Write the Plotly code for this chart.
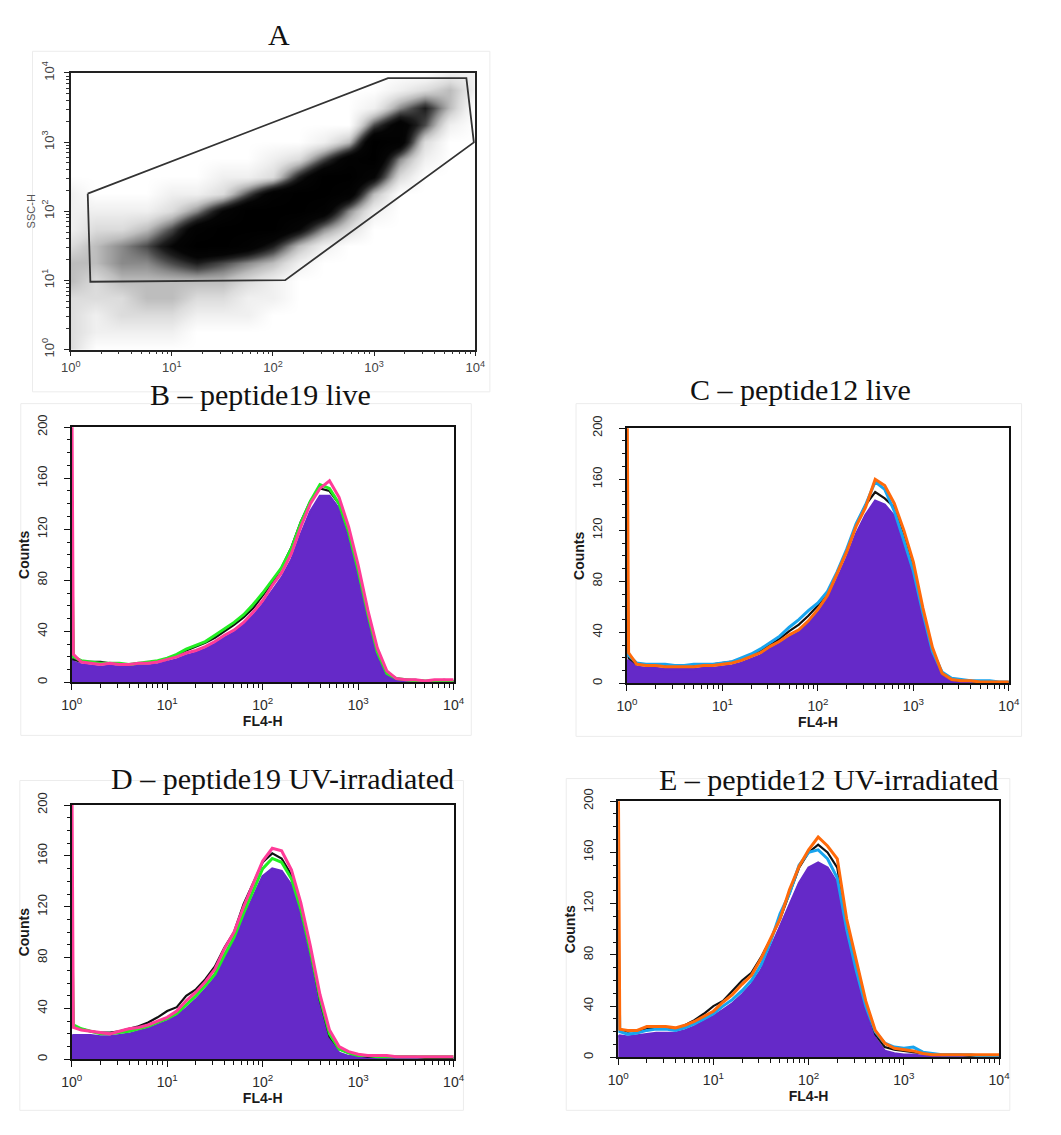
import math
import plotly.graph_objects as go

W, H = 1061, 1135

# ---------------- Panel A : FSC-H vs SSC-H density (log10 decades) ----------------
A_LOG = [0, 0.25, 0.5, 0.75, 1.0, 1.25, 1.5, 1.75, 2.0, 2.25, 2.5, 2.75, 3.0, 3.25, 3.5, 3.75, 4.0]
# darkness 0-9 of the dot cloud, rows from SSC 10^0 (bottom) upward, columns FSC 10^0 -> 10^4
A_CLOUD_ROWS = [
    "20000000000000000",
    "21111000000000000",
    "21222111000000000",
    "22233221100000000",
    "32333332100000000",
    "33445654310000000",
    "23457998631000000",
    "12235899974200000",
    "11112479998410000",
    "10001125899830000",
    "00000011269972000",
    "00000000125894100",
    "00000000001398200",
    "00000000000058510",
    "00000000000014630",
    "00000000000001231",
    "00000000000000011",
]
# gate polygon vertices (log10 FSC, log10 SSC)
GATE_X = [0.168, 3.138, 3.913, 3.987, 2.121, 0.194, 0.168]
GATE_Y = [2.255, 3.925, 3.925, 2.995, 1.005, 0.981, 2.255]

# ---------------- Histograms B-E ----------------
CHANNELS = [1.0, 1.04, 1.26, 1.58, 2.0, 2.51, 3.16, 3.98, 5.01, 6.31, 7.94,
            10, 12.6, 15.8, 20.0, 25.1, 31.6, 39.8, 50.1, 63.1, 79.4,
            100, 126, 158, 200, 251, 316, 398, 501, 631, 794,
            1000, 1259, 1585, 1995, 2512, 3162, 3981, 5012, 6310, 7943, 10000]

B_FILL  = [18, 16, 14, 13, 12, 13, 12, 12, 13, 13, 14, 16, 18, 21, 23, 26, 30, 35, 39, 45, 52, 61, 72, 82, 96, 116, 134, 146, 146, 136, 114, 85, 51, 21, 5, 1.5, 1, 0.5, 0.5, 0.5, 0.5, 0.5]
B_BLACK = [115, 18, 16, 16, 16, 15, 14, 14, 15, 15, 16, 18, 21, 25, 28, 31, 35, 40, 45, 51, 58, 68, 78, 90, 106, 126, 142, 152, 150, 140, 118, 90, 56, 26, 8, 3, 2, 2, 1, 1, 2, 1]
B_GREEN = [115, 20, 17, 16, 15, 15, 15, 14, 15, 16, 17, 19, 22, 26, 29, 32, 37, 42, 47, 53, 61, 70, 80, 90, 105, 125, 142, 155, 152, 140, 118, 88, 54, 24, 7, 3, 2, 1, 1, 1, 1, 1]
B_PINK  = [250, 22, 16, 15, 14, 15, 14, 14, 15, 15, 16, 18, 20, 23, 25, 28, 32, 37, 41, 47, 55, 64, 76, 86, 101, 122, 140, 152, 158, 145, 122, 92, 57, 27, 9, 3, 2, 2, 1, 2, 2, 2]

C_FILL   = [18, 18, 13, 12, 12, 11, 11, 11, 11, 12, 12, 13, 14, 16, 19, 22, 27, 31, 36, 40, 47, 55, 66, 81, 98, 117, 132, 143, 140, 131, 108, 85, 52, 22, 6, 1.5, 1, 0.5, 0.5, 0.5, 0.5, 0.5]
C_BLACK  = [115, 20, 15, 15, 15, 14, 14, 14, 14, 14, 15, 16, 17, 19, 22, 26, 30, 35, 41, 46, 53, 61, 71, 86, 104, 124, 140, 150, 145, 138, 118, 92, 57, 27, 8, 3, 2, 2, 1, 1, 1, 1]
C_BLUE   = [115, 22, 16, 15, 15, 15, 14, 14, 15, 15, 15, 16, 17, 20, 23, 27, 32, 37, 44, 50, 57, 63, 72, 87, 105, 125, 140, 158, 152, 135, 112, 88, 55, 25, 9, 4, 3, 2, 2, 2, 1, 1]
C_ORANGE = [250, 24, 15, 14, 14, 13, 13, 13, 13, 14, 14, 15, 16, 18, 21, 24, 29, 33, 38, 42, 49, 58, 69, 85, 103, 123, 138, 160, 155, 141, 120, 95, 59, 28, 8, 3, 2, 2, 1, 1, 1, 1]

D_FILL  = [18, 19, 19, 19, 18, 18, 19, 20, 22, 24, 27, 30, 34, 40, 47, 55, 64, 79, 93, 111, 128, 144, 150, 148, 137, 114, 81, 43, 16, 5, 2.5, 1.5, 1, 0.5, 0.5, 0.5, 0.5, 0.5, 0.5, 0.5, 0.5, 0.5]
D_BLACK = [110, 26, 24, 22, 21, 21, 22, 24, 26, 29, 33, 38, 41, 50, 55, 63, 73, 88, 100, 122, 138, 155, 162, 158, 145, 118, 85, 46, 18, 8, 5, 3, 2, 2, 2, 2, 2, 2, 1, 1, 1, 1]
D_GREEN = [110, 27, 24, 22, 20, 20, 21, 22, 24, 26, 29, 32, 36, 43, 50, 58, 67, 82, 96, 115, 132, 150, 158, 155, 142, 118, 85, 48, 20, 8, 5, 3, 3, 2, 2, 2, 2, 2, 2, 2, 2, 2]
D_PINK  = [250, 25, 23, 22, 21, 20, 22, 24, 25, 27, 30, 33, 38, 46, 53, 61, 71, 87, 100, 120, 138, 156, 166, 164, 149, 123, 89, 51, 23, 10, 6, 4, 3, 3, 3, 2, 2, 2, 2, 2, 2, 2]

E_FILL   = [16, 17, 16, 17, 18, 19, 19, 19, 21, 24, 28, 32, 37, 42, 49, 57, 68, 85, 102, 120, 136, 148, 152, 148, 136, 97, 65, 37, 15, 5, 3, 2, 2, 1, 0.5, 0.5, 0.5, 0.5, 0.5, 0.5, 0.5, 0.5]
E_BLACK  = [115, 22, 20, 21, 22, 23, 23, 22, 25, 29, 34, 40, 44, 52, 60, 66, 78, 92, 108, 128, 148, 160, 166, 160, 148, 105, 72, 42, 18, 8, 6, 5, 4, 3, 2, 2, 2, 2, 1, 1, 1, 1]
E_BLUE   = [115, 20, 18, 19, 21, 22, 22, 21, 23, 26, 30, 34, 40, 45, 52, 60, 72, 90, 112, 128, 150, 160, 162, 155, 140, 100, 68, 40, 20, 11, 8, 7, 8, 4, 3, 2, 2, 2, 2, 1, 1, 1]
E_ORANGE = [250, 22, 21, 21, 24, 24, 24, 23, 25, 28, 32, 36, 43, 49, 57, 64, 77, 93, 108, 131, 149, 162, 172, 165, 155, 108, 75, 44, 21, 11, 7, 6, 5, 3, 2, 2, 2, 2, 2, 2, 2, 2]

DECADES = [1, 10, 100, 1000, 10000]
DECADE_LABELS = ["10<sup>0</sup>", "10<sup>1</sup>", "10<sup>2</sup>", "10<sup>3</sup>", "10<sup>4</sup>"]
TITLES = ["A", "B \u2013 peptide19 live", "C \u2013 peptide12 live",
          "D \u2013 peptide19 UV-irradiated", "E \u2013 peptide12 UV-irradiated"]

PURPLE = "#6529c8"
BLACK = "#111111"
GREEN = "#22ee22"
PINK = "#ff3b98"
BLUE = "#18a4ee"
ORANGE = "#ff6a0a"

# plot boxes in pixels: (left, right, top, bottom)
BOX = {
    "A": (61, 474, 61, 343),
    "B": (62, 452, 422, 682),
    "C": (629, 1019, 423, 683),
    "D": (62, 452, 807, 1066),
    "E": (620, 1009, 803, 1064),
}
TITLE_POS = {"A": (274, 22), "B": (255, 389), "C": (806, 384), "D": (277, 780), "E": (835, 781)}
FRAMES = [(22, 489, 39, 386), (10, 470, 398, 736), (577, 1032, 398, 737),
          (9, 462, 782, 1118), (567, 1020, 780, 1118)]


def xdom(b):
    return [b[0] / W, b[1] / W]


def ydom(b):
    return [1 - b[3] / H, 1 - b[2] / H]


fig = go.Figure()

# Panel A cloud
z = [[int(ch) for ch in row] for row in A_CLOUD_ROWS]
fig.add_trace(go.Heatmap(
    z=z, x=A_LOG, y=A_LOG, zmin=0, zmax=9, zsmooth="best", showscale=False,
    colorscale=[[0, "#ffffff"], [1 / 9, "#f0f0f0"], [2 / 9, "#dcdcdc"], [3 / 9, "#bdbdbd"],
                [4 / 9, "#8a8a8a"], [5 / 9, "#4a4a4a"], [6 / 9, "#1c1c1c"], [7 / 9, "#050505"], [1, "#000000"]],
    xaxis="x", yaxis="y", hoverinfo="skip"))
fig.add_trace(go.Scatter(x=GATE_X, y=GATE_Y, mode="lines", line=dict(color="#333333", width=1.8),
                         xaxis="x", yaxis="y", hoverinfo="skip"))

panels = [
    ("B", "x2", "y2", B_FILL, [(B_BLACK, BLACK, 2.2), (B_GREEN, GREEN, 3), (B_PINK, PINK, 3)]),
    ("C", "x3", "y3", C_FILL, [(C_BLACK, BLACK, 2.2), (C_BLUE, BLUE, 3), (C_ORANGE, ORANGE, 3)]),
    ("D", "x4", "y4", D_FILL, [(D_BLACK, BLACK, 2.2), (D_GREEN, GREEN, 3), (D_PINK, PINK, 3)]),
    ("E", "x5", "y5", E_FILL, [(E_BLACK, BLACK, 2.2), (E_BLUE, BLUE, 3), (E_ORANGE, ORANGE, 3)]),
]
for name, xa, ya, fill, lines in panels:
    fig.add_trace(go.Scatter(x=CHANNELS, y=fill, mode="lines", fill="tozeroy", fillcolor=PURPLE,
                             line=dict(color=PURPLE, width=2.5), xaxis=xa, yaxis=ya, hoverinfo="skip"))
    for vals, col, wd in lines:
        fig.add_trace(go.Scatter(x=CHANNELS, y=vals, mode="lines", line=dict(color=col, width=wd),
                                 xaxis=xa, yaxis=ya, hoverinfo="skip"))

SANS = "Liberation Sans, Arial, sans-serif"
tickfont_x = dict(family=SANS, size=14, color="#2a2a2a")
tickfont_y = dict(family=SANS, size=13, color="#2a2a2a")
titlefont = dict(family=SANS, size=14, color="#1a1a1a", weight="bold")

minor_log = [math.log10(k * 10 ** d) for d in range(4) for k in range(2, 10)]
minor_vals = [k * 10 ** d for d in range(4) for k in range(2, 10)]
layout = dict(width=W, height=H, margin=dict(l=0, r=0, t=0, b=0), showlegend=False,
              paper_bgcolor="white", plot_bgcolor="white")

b = BOX["A"]
afont = dict(family=SANS, size=13, color="#444444")
layout["xaxis"] = dict(domain=xdom(b), range=[0, 4], tickmode="array", tickvals=[0, 1, 2, 3, 4],
                       ticktext=DECADE_LABELS, showgrid=False, zeroline=False,
                       showline=True, linecolor="#222", linewidth=1.5, mirror=True, ticks="outside",
                       ticklen=5, tickcolor="#222", tickfont=afont, anchor="y",
                       minor=dict(tickvals=minor_log, ticks="outside", ticklen=3, tickcolor="#333"))
layout["yaxis"] = dict(domain=ydom(b), range=[0, 4], tickmode="array", tickvals=[0, 1, 2, 3, 4],
                       ticktext=DECADE_LABELS, showgrid=False, zeroline=False,
                       showline=True, linecolor="#222", linewidth=1.5, mirror=True, ticks="outside",
                       ticklen=5, tickcolor="#222", tickangle=-90, tickfont=afont, ticklabelstandoff=5,
                       minor=dict(tickvals=minor_log, ticks="outside", ticklen=3, tickcolor="#333"),
                       title=dict(text="SSC-H", font=dict(family=SANS, size=11, color="#555"), standoff=2),
                       anchor="x")

for i, (name, xa, ya, *_r) in enumerate(panels):
    b = BOX[name]
    k = str(i + 2)
    layout["xaxis" + k] = dict(domain=xdom(b), type="log", range=[0, 4], tickmode="array", tickvals=DECADES,
                               ticktext=DECADE_LABELS,
                               showgrid=False, zeroline=False, showline=True, linecolor="#111", linewidth=1.5,
                               mirror=True, ticks="outside", ticklen=6, tickcolor="#111", tickfont=tickfont_x,
                               ticklabelstandoff=3,
                               minor=dict(tickvals=minor_vals, ticks="outside", ticklen=4, tickcolor="#111", showgrid=False),
                               title=dict(text="FL4-H", font=titlefont, standoff=1), anchor="y" + k)
    layout["yaxis" + k] = dict(domain=ydom(b), range=[0, 200], tickmode="array", tickvals=[0, 40, 80, 120, 160, 200],
                               showgrid=False, zeroline=False,
                               showline=True, linecolor="#111", linewidth=1.5, mirror=True, ticks="outside",
                               ticklen=6, tickcolor="#111", tickangle=-90, tickfont=tickfont_y, ticklabelstandoff=12,
                               minor=dict(ticks="outside", ticklen=3, tickcolor="#111", dtick=10, showgrid=False),
                               title=dict(text="Counts", font=titlefont, standoff=2), anchor="x" + k)

annotations = []
for key, t in zip(["A", "B", "C", "D", "E"], TITLES):
    x, y = TITLE_POS[key]
    annotations.append(dict(text=t, x=x / W, y=1 - y / H, xref="paper", yref="paper", showarrow=False,
                            xanchor="center", yanchor="middle",
                            font=dict(family="Liberation Serif, Times New Roman, serif", size=30, color="#111")))
layout["annotations"] = annotations

shapes = []
for (x0, x1, y0, y1) in FRAMES:
    shapes.append(dict(type="rect", xref="paper", yref="paper", x0=x0 / W, x1=x1 / W,
                       y0=1 - y1 / H, y1=1 - y0 / H, line=dict(color="#ececec", width=1), layer="below"))
layout["shapes"] = shapes

fig.update_layout(**layout)
fig.write_html("out.html")
